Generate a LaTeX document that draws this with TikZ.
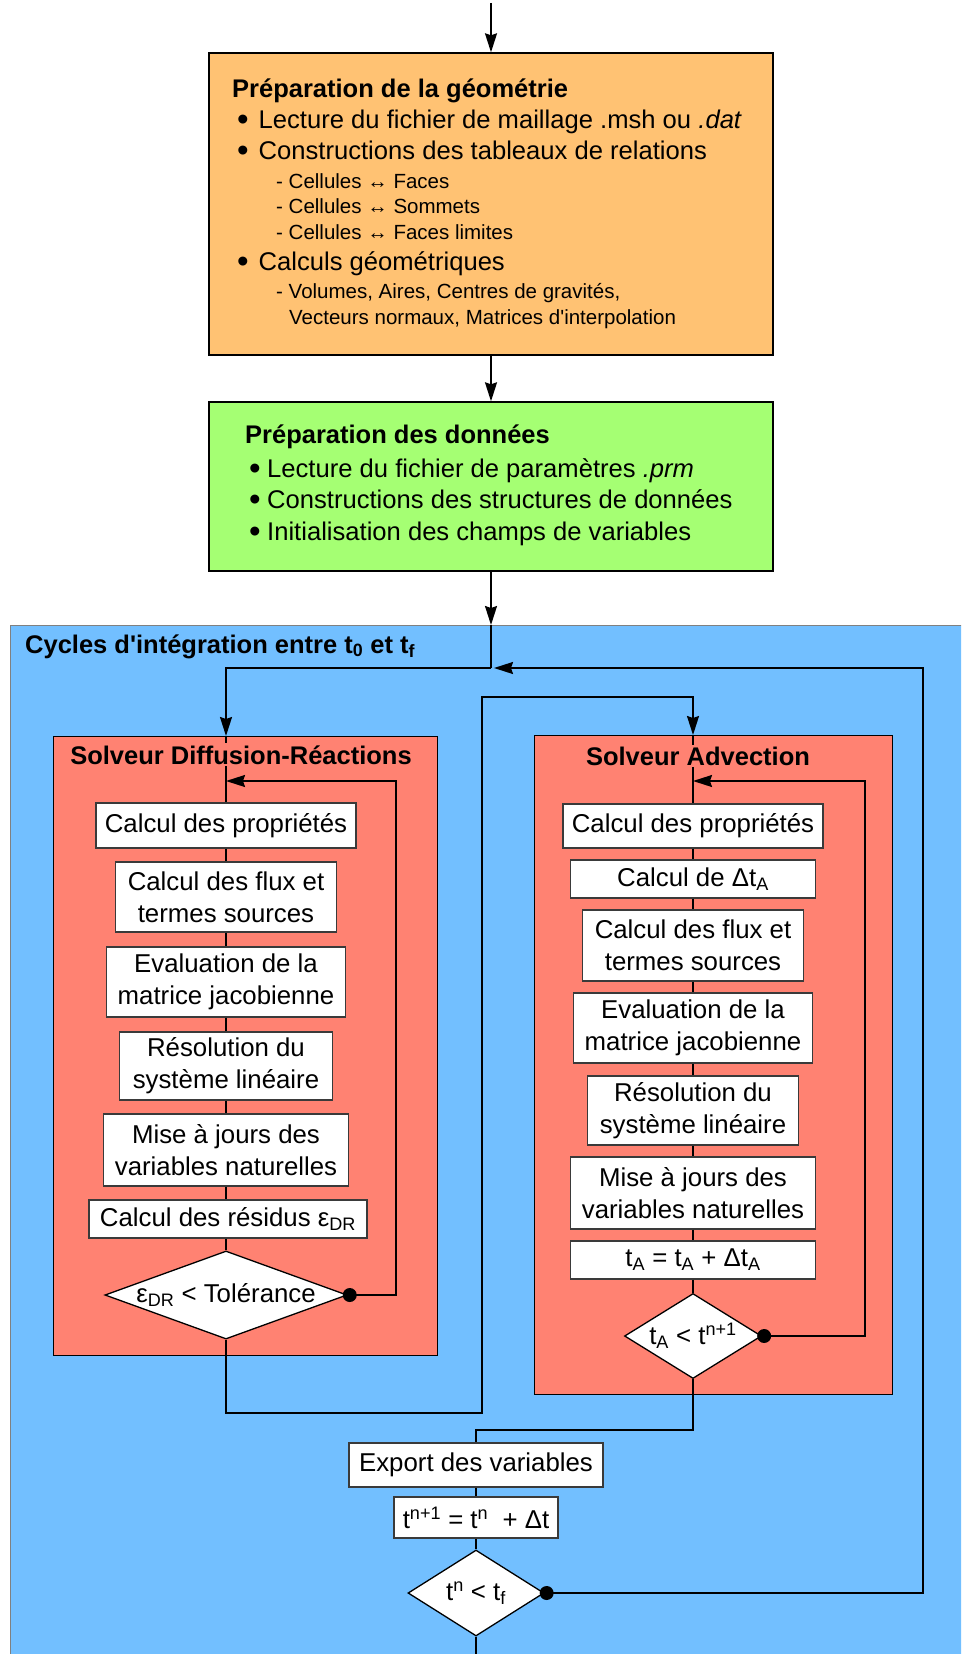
\documentclass[tikz,border=0pt]{standalone}
\usepackage{fontspec}
\setmainfont{Liberation Sans}[Ligatures=TeXOff]
\usetikzlibrary{arrows.meta,shapes.geometric}
\definecolor{orangebox}{HTML}{FFC273}
\definecolor{greenbox}{HTML}{A5FF73}
\definecolor{bluebox}{HTML}{72BFFF}
\definecolor{redbox}{HTML}{FF8272}
\definecolor{boxedge}{HTML}{3A3A3A}
\definecolor{cycedge}{HTML}{808080}
\begin{document}
\begin{tikzpicture}[x=1pt,y=-1pt,
  every node/.style={font=\fontsize{25.8}{32}\selectfont},
  stepbox/.style={draw=boxedge,line width=1.3pt,fill=white,inner sep=0pt,align=center,rectangle},
  testbox/.style={draw=black,line width=1.3pt,fill=white,shape=diamond,inner sep=0pt},
  container/.style={draw=black,line width=1.4pt,inner sep=0pt,rectangle},
  conn/.style={line width=1.7pt,draw=black},
  arr/.style={conn,-{Stealth[length=19pt,width=12pt,inset=2pt]}},
  dotnode/.style={circle,fill=black,inner sep=0pt,minimum size=14pt},
  titletext/.style={font=\fontsize{25.5}{30}\selectfont\bfseries,inner sep=0pt},
  bigtext/.style={font=\fontsize{25.6}{30}\selectfont,anchor=base west,inner sep=0pt},
  bul/.style={font=\fontsize{33}{36}\selectfont,anchor=base,inner sep=0pt,yshift=-2.8pt},
  smalltext/.style={font=\fontsize{20.5}{25}\selectfont,anchor=base west,inner sep=0pt},
]
\clip (0,0) rectangle (961,1654);

% containers
\node[container,fill=orangebox,minimum width=564pt,minimum height=302pt] (geo) at (491,204) {};
\node[container,fill=greenbox,minimum width=564pt,minimum height=169pt] (dat) at (491,486.5) {};
\node[draw=cycedge,line width=1.4pt,fill=bluebox,rectangle,inner sep=0pt,minimum width=970pt,minimum height=1050pt,anchor=north west] (cyc) at (10,625) {};
\node[container,fill=redbox,minimum width=384pt,minimum height=619pt,anchor=north west] (dr) at (53,736) {};
\node[container,fill=redbox,minimum width=358pt,minimum height=659pt,anchor=north west] (adv) at (534,735) {};

% geometry text
\node[titletext,anchor=base west] (geot) at (232,97) {Préparation de la géométrie};
\node[bul] at (243,128) {•};
\node[bigtext] (g1) at (258.5,128) {Lecture du fichier de maillage .msh ou \textit{.dat}};
\node[bul] at (243,159) {•};
\node[bigtext] (g2) at (258.5,159) {Constructions des tableaux de relations};
\node[smalltext] (g3) at (276,188) {- Cellules ↔ Faces};
\node[smalltext] (g4) at (276,213) {- Cellules ↔ Sommets};
\node[smalltext] (g5) at (276,239) {- Cellules ↔ Faces limites};
\node[bul] at (243,270) {•};
\node[bigtext] (g6) at (258.5,270) {Calculs géométriques};
\node[smalltext] (g7) at (276,298) {- Volumes, Aires, Centres de gravités,};
\node[smalltext] (g8) at (289,324) {Vecteurs normaux, Matrices d'interpolation};

% data text
\node[titletext,anchor=base west] (datt) at (245,443) {Préparation des données};
\node[bul] at (255,477) {•};
\node[bigtext] (p1) at (267,477) {Lecture du fichier de paramètres \textit{.prm}};
\node[bul] at (255,508) {•};
\node[bigtext] (p2) at (267,508) {Constructions des structures de données};
\node[bul] at (255,540) {•};
\node[bigtext] (p3) at (267,540) {Initialisation des champs de variables};

\node[titletext,anchor=base west] (cyct) at (25,653) {Cycles d'intégration entre t\textsubscript{0} et t\textsubscript{f}};

% DR steps
\node[stepbox,minimum width=260pt,minimum height=45pt] (b11) at (226,825.5) {Calcul des propriétés};
\node[stepbox,minimum width=221pt,minimum height=70pt] (b12) at (226,897) {Calcul des flux et\\termes sources};
\node[stepbox,minimum width=239pt,minimum height=70pt] (b13) at (226,982) {Evaluation de la\\matrice jacobienne};
\node[stepbox,minimum width=213pt,minimum height=68pt] (b14) at (226,1066) {Résolution du\\système linéaire};
\node[stepbox,minimum width=245pt,minimum height=72pt] (b15) at (226,1150) {Mise à jours des\\variables naturelles};
\node[stepbox,minimum width=278pt,minimum height=38pt] (b16) at (228,1219) {Calcul des résidus ε\textsubscript{DR}};
\node[testbox,aspect=2.75,minimum width=234pt,minimum height=85pt] (d1) at (226,1295) {ε\textsubscript{DR} < Tolérance};

% Adv steps
\node[stepbox,minimum width=260pt,minimum height=44pt] (b21) at (693,826) {Calcul des propriétés};
\node[stepbox,minimum width=245pt,minimum height=38pt] (b22) at (693,879) {Calcul de Δt\textsubscript{A}};
\node[stepbox,minimum width=221pt,minimum height=71pt] (b23) at (693,945.5) {Calcul des flux et\\termes sources};
\node[stepbox,minimum width=239pt,minimum height=70pt] (b24) at (693,1028) {Evaluation de la\\matrice jacobienne};
\node[stepbox,minimum width=211pt,minimum height=69pt] (b25) at (693,1110.5) {Résolution du\\système linéaire};
\node[stepbox,minimum width=245pt,minimum height=72pt] (b26) at (693,1193) {Mise à jours des\\variables naturelles};
\node[stepbox,minimum width=245pt,minimum height=38pt] (b27) at (693,1260) {t\textsubscript{A} = t\textsubscript{A} + Δt\textsubscript{A}};
\node[testbox,aspect=1.61,minimum width=137pt,minimum height=85pt] (d2) at (693,1336) {t\textsubscript{A} < t\textsuperscript{n+1}};

% bottom steps
\node[stepbox,minimum width=254pt,minimum height=44pt] (b31) at (476,1465) {Export des variables};
\node[stepbox,minimum width=164pt,minimum height=41pt] (b32) at (476,1517.5) {t\textsuperscript{n+1} = t\textsuperscript{n}~ + Δt};
\node[testbox,aspect=1.58,minimum width=136pt,minimum height=86pt] (d3) at (476,1593) {t\textsuperscript{n} < t\textsubscript{f}};

% coordinates
\coordinate (start) at (491,3);
\coordinate (j0) at (491,668);
\coordinate (j1) at (494,668);
\coordinate (drin) at (226,736);
\coordinate (drloop) at (226,781);
\coordinate (drr) at (396,781);
\coordinate (r1) at (226,1413);
\coordinate (r2) at (482,1413);
\coordinate (r3) at (482,697);
\coordinate (r4) at (693,697);
\coordinate (advin) at (693,735);
\coordinate (advloop) at (693,781);
\coordinate (advr) at (865,781);
\coordinate (a1) at (693,1430);
\coordinate (a2) at (476,1430);
\coordinate (o1) at (923,668);
\coordinate (endc) at (476,1660);

% connectors
\draw[arr] (start) -- (geo.north);
\draw[arr] (geo.south) -- (dat.north);
\draw[arr] (dat.south) -- (dat.south |- cyc.north);
\draw[conn] (dat.south |- cyc.north) -- (j0);
\draw[arr] (j0) -| (drin);
\draw[conn] (drin) -- (b11.north);
\draw[conn] (b11.south) -- (b12.north);
\draw[conn] (b12.south) -- (b13.north);
\draw[conn] (b13.south) -- (b14.north);
\draw[conn] (b14.south) -- (b15.north);
\draw[conn] (b15.south) -- (b15.south |- b16.north);
\draw[conn] (b16.south -| d1.north) -- (d1.north);
\draw[arr] (d1.east) -| (drr) -- (drloop);
\node[dotnode] at ([xshift=2pt]d1.east) {};
\draw[arr] (d1.south) -- (r1) -- (r2) -- (r3) -- (r4) -- (advin);
\draw[conn] (advin) -- (b21.north);
\draw[conn] (b21.south) -- (b22.north);
\draw[conn] (b22.south) -- (b23.north);
\draw[conn] (b23.south) -- (b24.north);
\draw[conn] (b24.south) -- (b25.north);
\draw[conn] (b25.south) -- (b26.north);
\draw[conn] (b26.south) -- (b27.north);
\draw[conn] (b27.south) -- (d2.north);
\draw[arr] (d2.east) -| (advr) -- (advloop);
\node[dotnode] at ([xshift=2pt]d2.east) {};
\draw[conn] (d2.south) -- (a1) -- (a2) -- (b31.north);
\draw[conn] (b31.south) -- (b32.north);
\draw[conn] (b32.south) -- (d3.north);
\draw[conn] (d3.south) -- (endc);
\draw[arr] (d3.east) -| (o1) -- (j1);
\node[dotnode] at ([xshift=2pt]d3.east) {};

% solver titles (over the lines)
\node[titletext,fill=redbox,inner ysep=2pt,anchor=base] (drt) at (241,764) {Solveur Diffusion-Réactions};
\node[titletext,fill=redbox,inner ysep=2pt,anchor=base] (advt) at (698,765) {Solveur Advection};
\end{tikzpicture}
\end{document}
